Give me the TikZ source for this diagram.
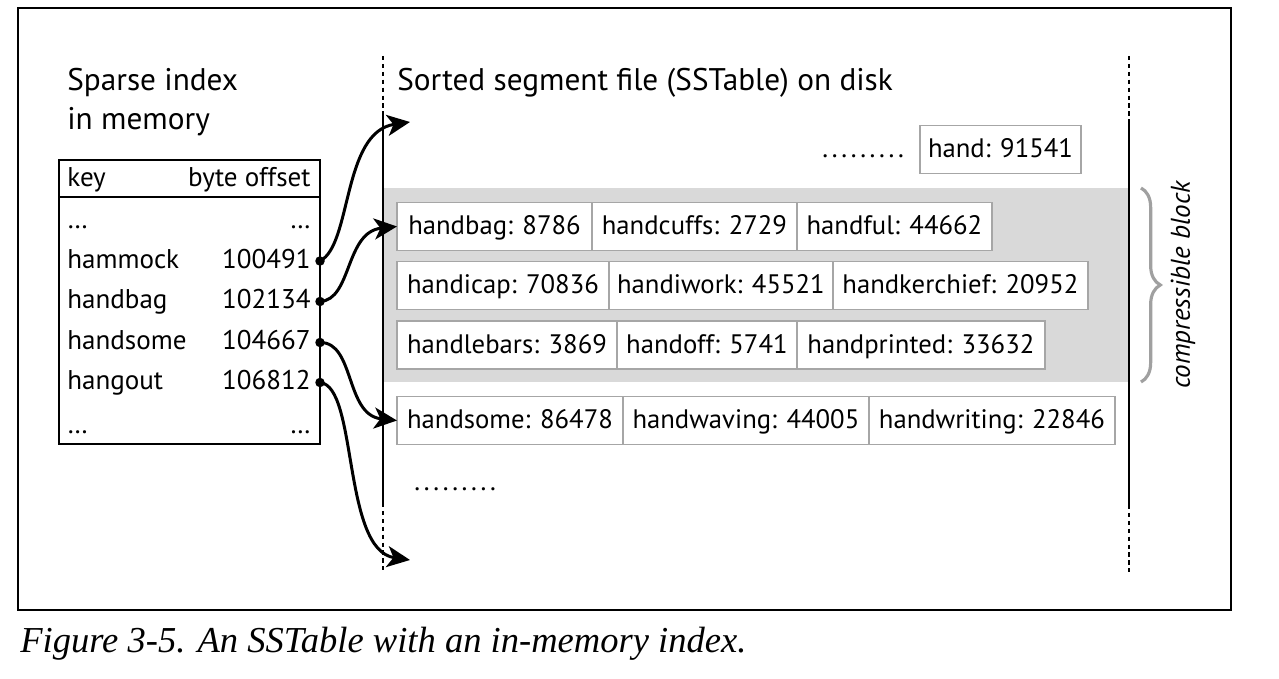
\documentclass[tikz,border=0pt]{standalone}
\usepackage{fontspec}
\setmainfont{PT Sans}
\newfontfamily\capfont{Liberation Serif}
\usepackage{tikz}
\usetikzlibrary{positioning,arrows.meta,decorations.pathreplacing}
\definecolor{blockgray}{HTML}{D9D9D9}
\definecolor{cellline}{HTML}{A6A6A6}
\definecolor{bracegray}{HTML}{A0A0A0}
\newcommand{\dotrun}{.\kern2.1pt.\kern2.1pt.\kern2.1pt.\kern2.1pt.\kern2.1pt.\kern2.1pt.\kern2.1pt.\kern2.1pt.}

\tikzset{
  entry/.style={draw=cellline, line width=0.8pt, fill=white, minimum height=0.96cm,
    inner sep=0pt, outer sep=0pt, text height=12pt, text depth=2.4pt,
    font=\fontsize{15.2}{18}\selectfont},
  idx/.style={inner sep=0pt, font=\fontsize{15.4}{18}\selectfont},
  heading/.style={inner sep=0pt, font=\fontsize{17.8}{21}\selectfont, align=left},
  pin/.style={circle, fill=black, inner sep=0pt, minimum size=0.19cm},
  link/.style={-{Stealth[length=13pt,width=12pt,inset=3.5pt]}, line width=1.7pt},
  guide/.style={line width=0.9pt, dash pattern=on 2.5pt off 2pt},
  rule/.style={line width=0.9pt}
}

\begin{document}
\begin{tikzpicture}[x=0.02cm,y=-0.02cm]
  \useasboundingbox (0,0) rectangle (1279,679);
  \draw[line width=0.7pt] (18,8) rectangle (1231,610);

  % headings
  \node[heading, anchor=base west] (sparse) at (67,91) {Sparse index};
  \node[heading, anchor=base west] (inmem) at (67,130) {in memory};
  \node[heading, anchor=base west] (disk) at (397,91) {Sorted segment file (SSTable) on disk};

  % sparse index table
  \draw[line width=0.8pt] (59,160) rectangle (320,444);
  \draw[line width=0.8pt] (59,197) -- (320,197);
  \node[idx, anchor=base west] (hkey) at (67,187) {key};
  \node[idx, anchor=base east] (hoff) at (311,187) {byte offset};
  \node[idx, anchor=base west] (k0) at (67,229) {\dots};
  \node[idx, anchor=base east] (o0) at (311,229) {\dots};
  \node[idx, anchor=base west] (k1) at (67,268) {hammock};
  \node[idx, anchor=base east] (o1) at (311,268) {100491};
  \node[idx, anchor=base west] (k2) at (67,308.5) {handbag};
  \node[idx, anchor=base east] (o2) at (311,308.5) {102134};
  \node[idx, anchor=base west] (k3) at (67,349) {handsome};
  \node[idx, anchor=base east] (o3) at (311,349) {104667};
  \node[idx, anchor=base west] (k4) at (67,389.5) {hangout};
  \node[idx, anchor=base east] (o4) at (311,389.5) {106812};
  \node[idx, anchor=base west] (k5) at (67,433) {\dots};
  \node[idx, anchor=base east] (o5) at (311,433) {\dots};

  % compressible block
  \fill[blockgray] (383,188) rectangle (1129,382);

  % segment boundaries
  \draw[guide] (383,56) -- (383,115);
  \draw[rule] (383,115) -- (383,503);
  \draw[guide] (383,503) -- (383,570);
  \draw[guide] (1129,56) -- (1129,123);
  \draw[rule] (1129,123) -- (1129,505);
  \draw[guide] (1129,505) -- (1129,572);

  % key/offset entries
  \node[idx, anchor=base west] (gap1) at (822,158) {\dotrun};
  \node[entry, minimum width=3.22cm] (hand) at (1000.5,149.5) {hand: 91541};

  \node[entry, minimum width=3.9cm, anchor=west] (bag) at (397,226.5) {handbag: 8786};
  \node[entry, minimum width=4.1cm, right=0pt of bag] (cuffs) {handcuffs: 2729};
  \node[entry, minimum width=3.9cm, right=0pt of cuffs] (ful) {handful: 44662};

  \node[entry, minimum width=4.24cm, anchor=west] (cap) at (397,285.5) {handicap: 70836};
  \node[entry, minimum width=4.48cm, right=0pt of cap] (work) {handiwork: 45521};
  \node[entry, minimum width=5.1cm, right=0pt of work] (kerch) {handkerchief: 20952};

  \node[entry, minimum width=4.4cm, anchor=west] (bars) at (397,345) {handlebars: 3869};
  \node[entry, minimum width=3.6cm, right=0pt of bars] (off) {handoff: 5741};
  \node[entry, minimum width=4.96cm, right=0pt of off] (print) {handprinted: 33632};

  \node[entry, minimum width=4.52cm, anchor=west] (some) at (397,420.5) {handsome: 86478};
  \node[entry, minimum width=4.92cm, right=0pt of some] (wave) {handwaving: 44005};
  \node[entry, minimum width=4.92cm, right=0pt of wave] (write) {handwriting: 22846};

  \node[idx, anchor=base west] (gap2) at (414,490) {\dotrun};

  % brace
  \draw[bracegray, line width=1.8pt, decorate, decoration={brace, amplitude=11pt}]
    (1141,188) -- (1141,382);
  \node[idx, rotate=90, font=\fontsize{15.4}{18}\selectfont\itshape] (cblock) at (1183,285) {compressible block};

  % pointers
  \node[pin] (p1) at (320,261) {};
  \node[pin] (p2) at (320,301.5) {};
  \node[pin] (p3) at (320,342.5) {};
  \node[pin] (p4) at (320,382.5) {};
  \coordinate (t1) at (410,122);
  \coordinate (t4) at (410,560);

  \draw[link] (p1.center) .. controls (352,245) and (342,132) .. (t1);
  \draw[link] (p2.center) .. controls (352,300) and (345,232) .. (bag.west);
  \draw[link] (p3.center) .. controls (355,342) and (345,415) .. (some.west);
  \draw[link] (p4.center) .. controls (358,386) and (342,550) .. (t4);

  % caption
  \node[anchor=base west, inner sep=0pt, font=\capfont\itshape\fontsize{20.8}{25}\selectfont] (caption) at (20,652)
    {Figure 3-5. An SSTable with an in-memory index.};
\end{tikzpicture}
\end{document}
